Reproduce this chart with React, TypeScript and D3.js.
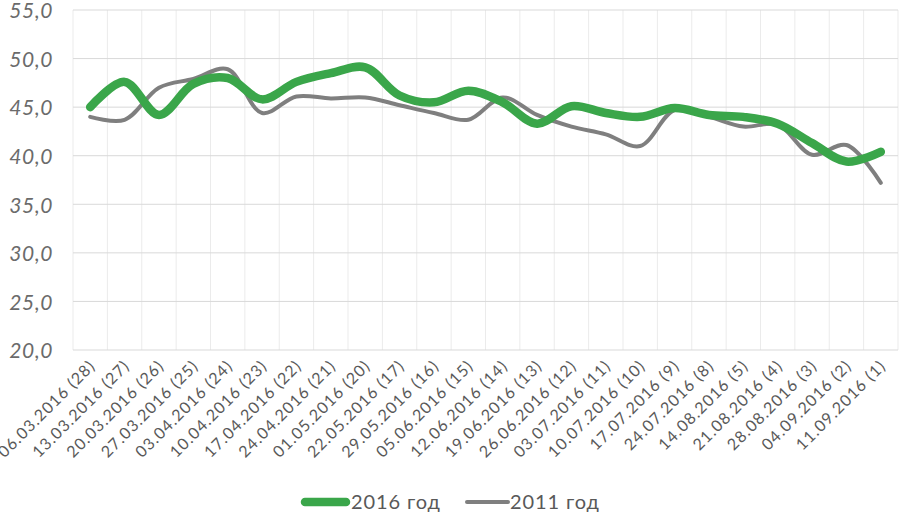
import React from "react";
import * as d3 from "d3";

const categories = [
  "06.03.2016 (28)", "13.03.2016 (27)", "20.03.2016 (26)", "27.03.2016 (25)",
  "03.04.2016 (24)", "10.04.2016 (23)", "17.04.2016 (22)", "24.04.2016 (21)",
  "01.05.2016 (20)", "22.05.2016 (17)", "29.05.2016 (16)", "05.06.2016 (15)",
  "12.06.2016 (14)", "19.06.2016 (13)", "26.06.2016 (12)", "03.07.2016 (11)",
  "10.07.2016 (10)", "17.07.2016 (9)", "24.07.2016 (8)", "14.08.2016 (5)",
  "21.08.2016 (4)", "28.08.2016 (3)", "04.09.2016 (2)", "11.09.2016 (1)",
];
const series2016 = [45.0, 47.6, 44.2, 47.4, 48.0, 45.8, 47.6, 48.5, 49.1, 46.2, 45.5, 46.7,
  45.5, 43.3, 45.1, 44.4, 44.0, 44.9, 44.2, 44.0, 43.3, 41.3, 39.4, 40.4];
const series2011 = [44.0, 43.7, 47.0, 47.9, 48.9, 44.4, 46.1, 45.9, 46.0, 45.2, 44.4, 43.7,
  46.0, 44.2, 43.0, 42.2, 41.0, 44.7, 44.0, 43.0, 43.2, 40.1, 41.1, 37.2];
const yTicks = [20, 25, 30, 35, 40, 45, 50, 55];
const seriesNames = ["2016 год", "2011 год"];

const W = 900, H = 513;
const left = 73, right = 898, top = 10, bottom = 350;
const FONT = "Lato, 'Noto Sans', sans-serif";

export default function App() {
  const x = d3.scaleBand<string>().domain(categories).range([left, right]);
  const y = d3.scaleLinear().domain([20, 55]).range([bottom, top]);
  const cx = (c: string) => (x(c) as number) + x.bandwidth() / 2;
  const line = (vals: number[]) =>
    d3.line<number>().x((_, i) => cx(categories[i])).y((v) => y(v)).curve(d3.curveCatmullRom.alpha(0.5))(vals) || "";
  const vlines = categories.map((c) => x(c) as number).concat([right]);
  const fmt = (v: number) => v.toFixed(1).replace(".", ",");
  return (
    <svg width={W} height={H} style={{ position: "absolute", left: 0, top: 0, background: "#fff" }}>
      {vlines.map((vx, i) => (
        <line key={"v" + i} x1={vx} x2={vx} y1={top} y2={bottom} stroke="#ebebeb" strokeWidth={1} />
      ))}
      {yTicks.map((t) => (
        <line key={"h" + t} x1={left} x2={right} y1={y(t)} y2={y(t)} stroke="#d9d9d9" strokeWidth={1} />
      ))}
      {yTicks.map((t) => (
        <text key={"yl" + t} x={53} y={y(t) + 1} dy="0.35em" textAnchor="end" fontFamily={FONT}
          fontStyle="italic" fontSize={21} letterSpacing={0.6} fill="#6b6b6b">{fmt(t)}</text>
      ))}
      {categories.map((c) => (
        <text key={c} transform={`translate(${cx(c) + 6},${367}) rotate(-45)`} textAnchor="end"
          fontFamily={FONT} fontSize={16} letterSpacing={1.1} fill="#595959">{c}</text>
      ))}
      <path d={line(series2011)} fill="none" stroke="#7f7f7f" strokeWidth={4} strokeLinecap="round" strokeLinejoin="round" />
      <path d={line(series2016)} fill="none" stroke="#3aa64a" strokeWidth={8.5} strokeLinecap="round" strokeLinejoin="round" />
      <g>
        <line x1={305} x2={346} y1={502} y2={502} stroke="#3aa64a" strokeWidth={8.5} strokeLinecap="round" />
        <text x={351} y={509} fontFamily={FONT} fontSize={20} letterSpacing={0.9} fill="#595959">{seriesNames[0]}</text>
        <line x1={467} x2={508} y1={502} y2={502} stroke="#7f7f7f" strokeWidth={4} strokeLinecap="round" />
        <text x={510} y={509} fontFamily={FONT} fontSize={20} letterSpacing={0.9} fill="#595959">{seriesNames[1]}</text>
      </g>
    </svg>
  );
}
